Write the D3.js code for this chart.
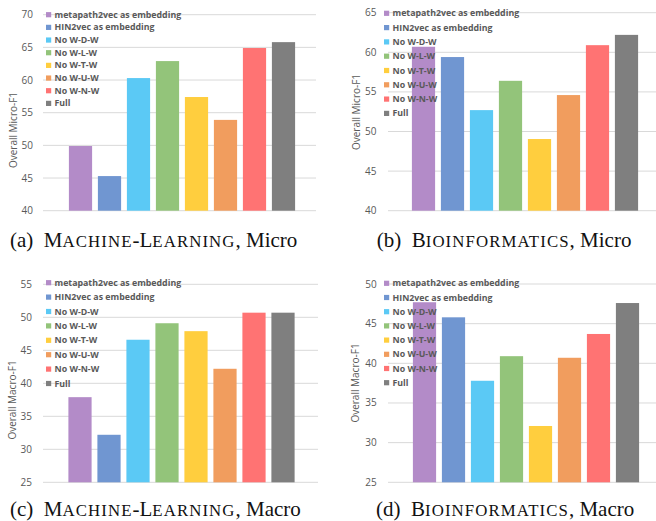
<!DOCTYPE html>
<html>
<head>
<meta charset="utf-8">
<script src="https://cdn.jsdelivr.net/npm/d3@7"></script>
<style>
  body { margin: 0; background: #fff; }
  text { font-family: "Open Sans", sans-serif; }
</style>
</head>
<body>
<svg width="656" height="521"></svg>
<script>
// legend / bar order
var methods = ["metapath2vec as embedding", "HIN2vec as embedding", "No W-D-W", "No W-L-W",
               "No W-T-W", "No W-U-W", "No W-N-W", "Full"];
var colors = ["#b38bc8", "#7096d1", "#5bc9f5", "#93c47a", "#ffce3e", "#f19d5e", "#ff7373", "#7f7f7f"];

// values
var mlMicro  = [49.9, 45.3, 60.3, 62.9, 57.4, 53.9, 64.9, 65.8];
var bioMicro = [60.7, 59.4, 52.7, 56.4, 49.05, 54.6, 60.9, 62.2];
var mlMacro  = [37.9, 32.2, 46.6, 49.1, 47.9, 42.2, 50.7, 50.7];
var bioMacro = [47.7, 45.8, 37.8, 40.9, 32.1, 40.7, 43.7, 47.6];

var panels = [
  {values: mlMicro, domain: [40, 70], label: "Overall Micro-F1",
   grid: [43, 316], yr: [210.7, 14.7], band: [66, 298], tickX: 33,
   titleX: 13, titleY: 130, legX: 46, legY: 14.7, legStep: 12.67,
   cap: ["(a)", "M", "ACHINE", "-L", "EARNING", ", Micro"], capX: 10, capY: 246.7},
  {values: bioMicro, domain: [40, 65], label: "Overall Micro-F1",
   grid: [388, 656], yr: [210.7, 12.7], band: [409, 641], tickX: 376.5,
   titleX: 356, titleY: 112, legX: 384, legY: 13.3, legStep: 14.3,
   cap: ["(b)", "B", "IOINFORMATICS", "", "", ", Micro"], capX: 376.7, capY: 246.7},
  {values: mlMacro, domain: [25, 55], label: "Overall Macro-F1",
   grid: [43, 318], yr: [482.3, 284.3], band: [65.5, 297.5], tickX: 32,
   titleX: 12, titleY: 400, legX: 46, legY: 282.7, legStep: 14.4,
   cap: ["(c)", "M", "ACHINE", "-L", "EARNING", ", Macro"], capX: 10, capY: 516},
  {values: bioMacro, domain: [25, 50], label: "Overall Macro-F1",
   grid: [388, 656], yr: [482.3, 284], band: [410, 642], tickX: 376.7,
   titleX: 355, titleY: 383, legX: 384, legY: 283.3, legStep: 14.2,
   cap: ["(d)", "B", "IOINFORMATICS", "", "", ", Macro"], capX: 376, capY: 516}
];

var svg = d3.select("svg");

panels.forEach(function(p) {
  var g = svg.append("g");
  var y = d3.scaleLinear().domain(p.domain).range(p.yr);
  var x = d3.scaleBand().domain(methods).range(p.band).paddingInner(0.2).paddingOuter(0.1);
  var ticks = d3.range(p.domain[0], p.domain[1] + 0.1, 5);

  // gridlines
  g.selectAll("line.grid").data(ticks).join("line")
      .attr("x1", p.grid[0]).attr("x2", p.grid[1])
      .attr("y1", d => y(d)).attr("y2", d => y(d))
      .attr("stroke", "#d9d9d9").attr("stroke-width", 1);

  // tick labels
  g.selectAll("text.tick").data(ticks).join("text")
      .attr("x", p.tickX).attr("y", d => y(d)).attr("dy", "0.35em")
      .attr("text-anchor", "end")
      .attr("font-size", 10).attr("fill", "#595959")
      .text(d => d);

  // y title
  g.append("text")
      .attr("transform", `translate(${p.titleX},${p.titleY}) rotate(-90)`)
      .attr("dy", "0.35em").attr("text-anchor", "middle")
      .attr("font-size", 10).attr("fill", "#595959")
      .text(p.label);

  // bars
  g.selectAll("rect.bar").data(p.values).join("rect")
      .attr("x", (d, i) => x(methods[i]))
      .attr("width", x.bandwidth())
      .attr("y", d => y(d))
      .attr("height", d => y(p.domain[0]) - y(d))
      .attr("fill", (d, i) => colors[i]);

  // legend (drawn over the bars)
  var leg = g.selectAll("g.leg").data(methods).join("g")
      .attr("transform", (d, i) => `translate(${p.legX},${p.legY + i * p.legStep})`);
  leg.append("rect").attr("x", 0).attr("y", -2.6).attr("width", 5.2).attr("height", 5.2)
      .attr("fill", (d, i) => colors[i]);
  leg.append("text").attr("x", 8.5).attr("dy", "0.35em")
      .attr("font-size", 8.8).attr("font-weight", "bold").attr("fill", "#595959")
      .text(d => d);

  // caption with small caps
  var c = g.append("text").attr("x", p.capX).attr("y", p.capY)
      .attr("font-size", 21).attr("fill", "#111")
      .style("font-family", "'Liberation Serif', serif");
  c.append("tspan").text(p.cap[0] + "\u2002");
  c.append("tspan").text(p.cap[1]);
  c.append("tspan").attr("font-size", 16.8).attr("letter-spacing", 1.1).text(p.cap[2]);
  if (p.cap[3]) {
    c.append("tspan").text(p.cap[3]);
    c.append("tspan").attr("font-size", 16.8).attr("letter-spacing", 1.1).text(p.cap[4]);
  }
  c.append("tspan").text(p.cap[5]);
});
</script>
</body>
</html>
